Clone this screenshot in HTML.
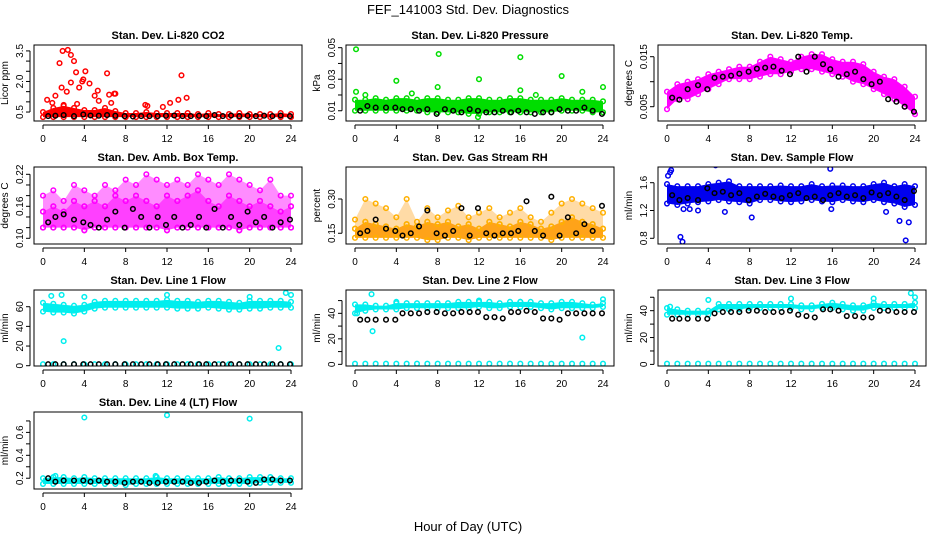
<!DOCTYPE html>
<html><head><meta charset="utf-8"><style>
html,body{margin:0;padding:0;background:#fff;}
svg{display:block;font-family:"Liberation Sans",sans-serif;}
</style></head><body>
<svg id="chart" width="936" height="540" viewBox="0 0 936 540">
<text x="468" y="14" text-anchor="middle" font-size="13">FEF_141003  Std. Dev. Diagnostics</text>
<text x="468" y="531" text-anchor="middle" font-size="13">Hour of Day (UTC)</text>
</svg>
<script>
const hours = [0,1,2,3,4,5,6,7,8,9,10,11,12,13,14,15,16,17,18,19,20,21,22,23,24];
const hoursB = [0.5,1.2,2,3,3.9,4.6,5.4,6.2,7,7.9,8.7,9.5,10.3,11.1,11.9,12.7,13.5,14.3,15.1,15.8,16.6,17.4,18.2,19,19.8,20.6,21.4,22.2,23,23.9];
const xTicks = [0,4,8,12,16,20,24];

// CO2
const co2Low = [0.25,0.25,0.25,0.25,0.25,0.25,0.25,0.25,0.25,0.25,0.25,0.25,0.25,0.25,0.25,0.25,0.25,0.25,0.25,0.25,0.25,0.25,0.25,0.25,0.25];
const co2High = [0.5,0.7,0.8,0.7,0.6,0.6,0.7,0.55,0.45,0.45,0.5,0.45,0.45,0.45,0.45,0.4,0.45,0.4,0.4,0.45,0.4,0.4,0.4,0.45,0.4];
const co2Black = [0.3,0.32,0.35,0.3,0.38,0.33,0.32,0.35,0.32,0.3,0.28,0.3,0.3,0.3,0.32,0.33,0.3,0.3,0.32,0.3,0.35,0.3,0.33,0.3,0.32,0.3,0.32,0.3,0.33,0.3];
const co2OutH = [1.9,2.4,2.7,1.6,3.0,3.2,4.1,6.2,13.4,2.7,3.8,4.5,3.9,1.8,2.3,3.5,5.3,1.2,0.4,6.4,6.9,7.0,13.1,13.9,9.9,12.3,11.6,0.9,5.0,2.0,3.3,5.4,6.6,10.1];
const co2OutV = [3.5,3.55,3.3,2.9,3.0,2.45,2.5,2.4,2.3,1.95,2.0,1.9,2.1,1.7,1.5,1.7,1.55,1.3,1.1,1.35,1.4,1.4,1.1,1.2,0.85,0.95,0.75,0.95,1.3,0.85,0.9,1.05,0.95,0.8];

// Pressure
const prLow = [0.010,0.010,0.010,0.010,0.010,0.010,0.010,0.009,0.009,0.009,0.009,0.008,0.008,0.009,0.009,0.009,0.009,0.009,0.009,0.009,0.010,0.010,0.010,0.009,0.009];
const prHigh = [0.017,0.017,0.018,0.017,0.018,0.018,0.017,0.018,0.018,0.017,0.017,0.018,0.018,0.017,0.017,0.018,0.018,0.017,0.017,0.017,0.018,0.017,0.017,0.017,0.016];
const prBlack = [0.010,0.013,0.012,0.012,0.012,0.011,0.011,0.010,0.011,0.008,0.011,0.010,0.009,0.011,0.010,0.009,0.009,0.010,0.009,0.010,0.009,0.008,0.009,0.009,0.011,0.010,0.010,0.012,0.010,0.008];
const prOutH = [0.1,8.1,16.0,20.0,12.0,4.0,0.1,8.0,16.0,22.0,24.0,5.5,1.0,17.5,11.9];
const prOutV = [0.049,0.046,0.044,0.032,0.030,0.029,0.022,0.025,0.023,0.022,0.025,0.021,0.020,0.020,0.006];

// Li-820 Temp
const tpLow = [0.0045,0.0065,0.0065,0.0075,0.0085,0.0095,0.0105,0.0105,0.0105,0.0110,0.0115,0.0115,0.0120,0.0125,0.0125,0.0120,0.0115,0.0110,0.0100,0.0095,0.0085,0.0075,0.0065,0.0050,0.0035];
const tpHigh = [0.0080,0.0095,0.0100,0.0105,0.0115,0.0120,0.0125,0.0130,0.0130,0.0140,0.0150,0.0145,0.0140,0.0150,0.0155,0.0155,0.0145,0.0140,0.0140,0.0135,0.0120,0.0110,0.0105,0.0090,0.0070];
const tpBlack = [0.0068,0.0064,0.0085,0.0093,0.0085,0.0108,0.0110,0.0112,0.0116,0.0120,0.0126,0.0128,0.0130,0.0122,0.0115,0.0150,0.0120,0.0150,0.0135,0.0125,0.0110,0.0115,0.0120,0.0105,0.0095,0.0100,0.0065,0.0060,0.0050,0.0040];

// Amb box temp
const abTop = [0.18,0.19,0.17,0.20,0.19,0.18,0.20,0.19,0.21,0.20,0.22,0.21,0.20,0.21,0.20,0.22,0.21,0.20,0.22,0.21,0.20,0.19,0.21,0.18,0.18];
const abMid = [0.15,0.16,0.15,0.17,0.16,0.17,0.16,0.18,0.17,0.18,0.17,0.16,0.18,0.17,0.18,0.19,0.17,0.16,0.18,0.17,0.16,0.17,0.16,0.15,0.16];
const abBot = [0.12,0.12,0.12,0.12,0.115,0.12,0.12,0.12,0.12,0.12,0.12,0.12,0.115,0.12,0.12,0.12,0.12,0.12,0.12,0.115,0.12,0.12,0.12,0.12,0.12];
const abBlack = [0.13,0.14,0.145,0.135,0.13,0.125,0.12,0.135,0.15,0.12,0.155,0.14,0.12,0.14,0.125,0.14,0.12,0.125,0.14,0.12,0.155,0.12,0.14,0.125,0.15,0.13,0.14,0.12,0.13,0.135];

// RH
const rhTop = [0.21,0.30,0.28,0.26,0.22,0.30,0.20,0.26,0.22,0.25,0.27,0.22,0.24,0.26,0.22,0.24,0.26,0.22,0.20,0.24,0.28,0.30,0.28,0.26,0.24];
const rhMid = [0.17,0.20,0.19,0.18,0.17,0.19,0.18,0.20,0.19,0.20,0.18,0.19,0.17,0.20,0.19,0.18,0.20,0.19,0.17,0.18,0.20,0.22,0.20,0.19,0.17];
const rhBot = [0.13,0.13,0.13,0.13,0.13,0.13,0.13,0.12,0.12,0.13,0.13,0.12,0.13,0.13,0.13,0.13,0.13,0.13,0.13,0.12,0.13,0.13,0.13,0.13,0.13];
const rhBlack = [0.15,0.16,0.21,0.17,0.16,0.14,0.15,0.18,0.25,0.15,0.14,0.16,0.26,0.14,0.26,0.15,0.14,0.15,0.15,0.16,0.29,0.16,0.14,0.31,0.14,0.22,0.15,0.19,0.16,0.27];

// Sample flow
const sfLow = [1.30,1.28,1.30,1.32,1.33,1.35,1.33,1.32,1.30,1.35,1.35,1.33,1.32,1.33,1.35,1.33,1.32,1.35,1.33,1.32,1.35,1.32,1.30,1.25,1.28];
const sfHigh = [1.58,1.55,1.55,1.55,1.58,1.60,1.62,1.55,1.55,1.55,1.55,1.56,1.55,1.55,1.58,1.55,1.56,1.56,1.55,1.55,1.58,1.60,1.55,1.58,1.55];
const sfBlack = [1.42,1.35,1.38,1.35,1.52,1.45,1.47,1.42,1.45,1.35,1.40,1.44,1.40,1.38,1.42,1.45,1.38,1.40,1.35,1.42,1.45,1.40,1.42,1.38,1.46,1.42,1.45,1.40,1.35,1.48];
const sfOutH = [0.3,0.4,1.3,1.5,1.6,4.7,15.8,0.1,22.5,23.1,23.4,2.2,3.0,5.6,8.2,15.9,21.2];
const sfOutV = [1.75,1.78,0.82,0.75,1.22,1.85,1.80,1.70,1.05,0.77,1.03,1.22,1.20,1.18,1.10,1.22,1.18];

// Line 1
const l1Low = [55,54,54,53,55,58,59,59,59,59,59,59,59,58,58,58,59,58,57,57,58,58,59,59,59];
const l1High = [64,63,62,61,62,65,66,66,66,66,66,66,67,66,66,65,66,66,65,64,66,66,66,66,65];
const l1Black = [1.5,1.5,1.5,1.5,1.5,1.5,1.5,1.5,1.5,1.5,1.5,1.5,1.5,1.5,1.5,1.5,1.5,1.5,1.5,1.5,1.5,1.5,1.5,1.5,1.5,1.5,1.5,1.5,1.5,1.5];
const l1Zero = [1.5,1.5,1.5,1.5,1.5,1.5,1.5,1.5,1.5,1.5,1.5,1.5,1.5,1.5,1.5,1.5,1.5,1.5,1.5,1.5,1.5,1.5,1.5,1.5,1.5];
const l1OutH = [2.0,22.8,1.8,0.8,4.0,12.0,20.0,23.5,24.0];
const l1OutV = [25,18,72,71,70,72,70,74,72];

// Line 2
const l2Low = [40,42,43,43,43,44,44,44,44,44,44,44,45,44,44,45,45,45,44,43,44,44,44,44,45];
const l2High = [47,47,46,46,48,48,48,48,48,48,49,49,49,49,48,49,49,49,48,48,49,49,48,47,48];
const l2Black = [35,35,35,35,35,40,40,40,41,41,40,40,41,41,41,37,37,36,41,41,42,41,36,36,35,40,40,40,40,40];
const l2Zero = [0.5,0.5,0.5,0.5,0.5,0.5,0.5,0.5,0.5,0.5,0.5,0.5,0.5,0.5,0.5,0.5,0.5,0.5,0.5,0.5,0.5,0.5,0.5,0.5,0.5];
const l2OutH = [1.7,22,1.6,0.2,4.0,12.0,16.0,24.0];
const l2OutV = [26,21,55,40,49,50,49,51];

// Line 3
const l3Low = [37,37,37,37,37,41,41,41,42,42,42,42,42,41,41,42,42,41,40,40,42,42,42,42,42];
const l3High = [42,41,40,40,40,45,45,45,45,45,45,45,45,44,44,45,46,45,44,44,46,45,45,45,46];
const l3Black = [34,34,34,34,34,38,39,39,39,40,40,39,39,39,40,37,36,35,41,41,40,36,36,35,35,40,40,39,39,39];
const l3Zero = [0.5,0.5,0.5,0.5,0.5,0.5,0.5,0.5,0.5,0.5,0.5,0.5,0.5,0.5,0.5,0.5,0.5,0.5,0.5,0.5,0.5,0.5,0.5,0.5,0.5];
const l3OutH = [0.3,4.0,12.0,20.0,23.6,24.0];
const l3OutV = [43,48,49,49,53,50];

// Line 4
const l4Low = [0.15,0.15,0.15,0.15,0.15,0.15,0.15,0.15,0.14,0.15,0.15,0.15,0.15,0.15,0.15,0.15,0.15,0.15,0.15,0.15,0.15,0.16,0.16,0.16,0.16];
const l4High = [0.20,0.21,0.21,0.20,0.21,0.20,0.20,0.20,0.20,0.20,0.20,0.21,0.20,0.20,0.20,0.20,0.20,0.21,0.20,0.20,0.21,0.21,0.21,0.20,0.20];
const l4Black = [0.2,0.17,0.18,0.18,0.18,0.17,0.18,0.17,0.17,0.16,0.17,0.17,0.16,0.16,0.17,0.17,0.17,0.16,0.16,0.17,0.18,0.17,0.18,0.18,0.17,0.16,0.19,0.19,0.18,0.18];
const l4OutH = [4.0,12.0,20.0,1.2,10.9];
const l4OutV = [0.73,0.75,0.72,0.22,0.22];

const NS = "http://www.w3.org/2000/svg";
const svg = document.getElementById('chart');
function mk(tag, attrs, parent){const e=document.createElementNS(NS,tag);for(const k in attrs)e.setAttribute(k,attrs[k]);(parent||svg).appendChild(e);return e;}

const colX = [34,346,658];
const rowY = [[45,121],[167,244],[290,366],[412,489]];

function panel(cfg){
  const left=colX[cfg.col], right=left+268, top=rowY[cfg.row][0], bot=rowY[cfg.row][1];
  const g = mk('g',{});
  
  
  const xs = h => left+9+h*(248/24);
  const ys = v => bot-(v-cfg.ymin)/(cfg.ymax-cfg.ymin)*(bot-top);
  const cp = 'clip-'+cfg.name;
  const cl = mk('clipPath',{id:cp},g); mk('rect',{x:left,y:top,width:268,height:bot-top},cl);
  const data = mk('g',{'clip-path':'url(#'+cp+')'},g);
  const stroke = cfg.stroke||cfg.color;
  function dot(h,v,color,nm){
    const c = mk('circle',{cx:xs(h),cy:ys(v),r:2.3,fill:'none',stroke:color,'stroke-width':1.5},data);
    
    
  }
  function band(lo,hi,op){
    let d='M';
    hours.forEach((h,i)=>{d+=xs(h)+','+ys(lo[i])+' L';});
    for(let i=hours.length-1;i>=0;i--){d+=xs(hours[i])+','+ys(hi[i])+(i?' L':' Z');}
    const b = mk('path',{d:d,fill:cfg.color,opacity:op},data);
    
    
  }
  if(cfg.upper) band(cfg.high,cfg.upper,cfg.upperOpacity);
  if(cfg.low){
    band(cfg.low,cfg.high,cfg.bandOpacity||1);
    hours.forEach((h,i)=>{dot(h,cfg.low[i],stroke,'band-point');dot(h,cfg.high[i],stroke,'band-point');});
  }
  (cfg.scatter||[]).forEach(arr=>hours.forEach((h,i)=>dot(h,arr[i],stroke,'scatter-point')));
  if(cfg.outH) cfg.outH.forEach((h,i)=>dot(h,cfg.outV[i],stroke,'outlier-point'));
  hoursB.forEach((h,i)=>dot(h,cfg.black[i],'#000','mean-point'));
  const box = mk('rect',{x:left,y:top,width:268,height:bot-top,fill:'none',stroke:'#000','stroke-width':1},g);
  
  
  const t = mk('text',{x:left+134,y:top-6,'text-anchor':'middle','font-size':11,'font-weight':'bold'},g);
  t.textContent = cfg.title;
  
  
  mk('line',{x1:xs(0),x2:xs(24),y1:bot+4,y2:bot+4,stroke:'#000'},g);
  xTicks.forEach(v=>{
    mk('line',{x1:xs(v),x2:xs(v),y1:bot+4,y2:bot+8,stroke:'#000'},g);
    const tl = mk('text',{x:xs(v),y:bot+21,'text-anchor':'middle','font-size':10},g);
    tl.textContent = v;
    
    
  });
  const yt = cfg.yTicks;
  mk('line',{x1:left-4,x2:left-4,y1:ys(yt[0]),y2:ys(yt[yt.length-1]),stroke:'#000'},g);
  yt.forEach((v,i)=>{
    mk('line',{x1:left-8,x2:left-4,y1:ys(v),y2:ys(v),stroke:'#000'},g);
    if(cfg.yLabels[i]!==''){
      const yl = mk('text',{x:left-11,y:ys(v),'text-anchor':'middle','font-size':10,transform:'rotate(-90 '+(left-11)+' '+ys(v)+')'},g);
      yl.textContent = cfg.yLabels[i];
      
      
    }
  });
  const ya = mk('text',{x:left-26,y:(top+bot)/2,'text-anchor':'middle','font-size':10,transform:'rotate(-90 '+(left-26)+' '+((top+bot)/2)+')'},g);
  ya.textContent = cfg.ylab;
  
  
}

panel({name:'co2-panel',title:'Stan. Dev. Li-820 CO2',col:0,row:0,ymin:0.06,ymax:3.79,color:'#ff0000',low:co2Low,high:co2High,black:co2Black,outH:co2OutH,outV:co2OutV,yTicks:[0.5,1,1.5,2,2.5,3,3.5],yLabels:['0.5','','','2.0','','','3.5'],ylab:'Licor ppm'});
panel({name:'pressure-panel',title:'Stan. Dev. Li-820 Pressure',col:1,row:0,ymin:0.0035,ymax:0.0517,color:'#00dd00',low:prLow,high:prHigh,black:prBlack,outH:prOutH,outV:prOutV,yTicks:[0.01,0.02,0.03,0.04,0.05],yLabels:['0.01','','0.03','','0.05'],ylab:'kPa'});
panel({name:'temp-panel',title:'Stan. Dev. Li-820 Temp.',col:2,row:0,ymin:0.00214,ymax:0.01734,color:'#ff00ff',low:tpLow,high:tpHigh,black:tpBlack,yTicks:[0.005,0.01,0.015],yLabels:['0.005','','0.015'],ylab:'degrees C'});
panel({name:'ambbox-panel',title:'Stan. Dev. Amb. Box Temp.',col:0,row:1,ymin:0.0893,ymax:0.2337,color:'#ff00ff',low:abBot,high:abMid,bandOpacity:0.75,upper:abTop,upperOpacity:0.45,scatter:[abTop,abMid,abBot],black:abBlack,yTicks:[0.1,0.12,0.14,0.16,0.18,0.2,0.22],yLabels:['0.10','','','0.16','','','0.22'],ylab:'degrees C'});
panel({name:'rh-panel',title:'Stan. Dev. Gas Stream RH',col:1,row:1,ymin:0.103,ymax:0.44,color:'#ff9900',stroke:'#ffb000',low:rhBot,high:rhMid,bandOpacity:0.9,upper:rhTop,upperOpacity:0.35,scatter:[rhTop,rhMid],black:rhBlack,yTicks:[0.15,0.3],yLabels:['0.15','0.30'],ylab:'percent'});
panel({name:'sampleflow-panel',title:'Stan. Dev. Sample Flow',col:2,row:1,ymin:0.718,ymax:1.826,color:'#0000ee',low:sfLow,high:sfHigh,black:sfBlack,outH:sfOutH,outV:sfOutV,yTicks:[0.8,1.2,1.6],yLabels:['0.8','1.2','1.6'],ylab:'ml/min'});
panel({name:'line1-panel',title:'Stan. Dev. Line 1 Flow',col:0,row:2,ymin:-0.3,ymax:77,color:'#00eeee',low:l1Low,high:l1High,scatter:[l1Zero],black:l1Black,outH:l1OutH,outV:l1OutV,yTicks:[0,20,40,60],yLabels:['0','20','40','60'],ylab:'ml/min'});
panel({name:'line2-panel',title:'Stan. Dev. Line 2 Flow',col:1,row:2,ymin:-1.3,ymax:58.3,color:'#00eeee',low:l2Low,high:l2High,scatter:[l2Zero],black:l2Black,outH:l2OutH,outV:l2OutV,yTicks:[0,10,20,30,40,50],yLabels:['0','','20','','40',''],ylab:'ml/min'});
panel({name:'line3-panel',title:'Stan. Dev. Line 3 Flow',col:2,row:2,ymin:-1.2,ymax:55.4,color:'#00eeee',low:l3Low,high:l3High,scatter:[l3Zero],black:l3Black,outH:l3OutH,outV:l3OutV,yTicks:[0,10,20,30,40,50],yLabels:['0','','20','','40',''],ylab:'ml/min'});
panel({name:'line4-panel',title:'Stan. Dev. Line 4 (LT) Flow',col:0,row:3,ymin:0.106,ymax:0.778,color:'#00eeee',low:l4Low,high:l4High,black:l4Black,outH:l4OutH,outV:l4OutV,yTicks:[0.2,0.3,0.4,0.5,0.6,0.7],yLabels:['0.2','','0.4','','0.6',''],ylab:'ml/min'});
</script>
</body></html>
